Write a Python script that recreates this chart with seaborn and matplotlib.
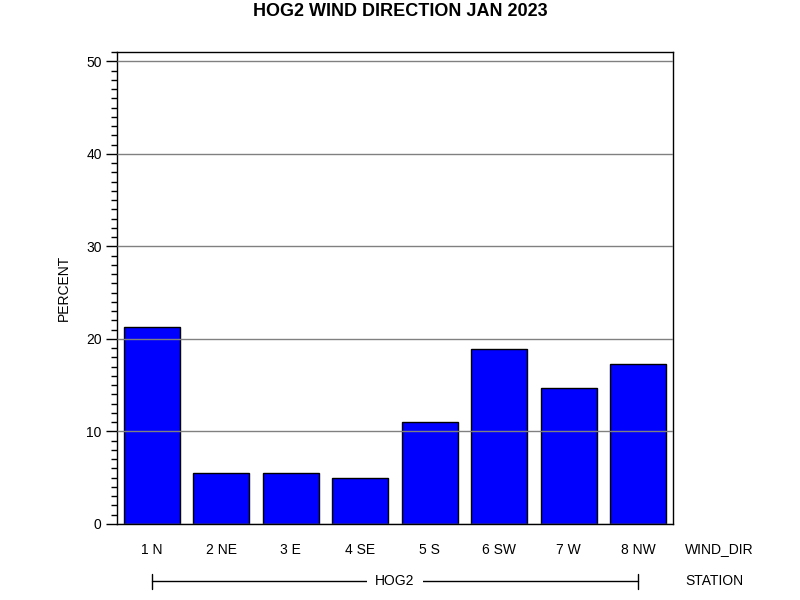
import numpy as np
import pandas as pd
import seaborn as sns
import matplotlib.pyplot as plt
import matplotlib.transforms as mtransforms
from matplotlib.ticker import MultipleLocator

# wind direction share for station HOG2, Jan 2023
wind_dir = ["1 N", "2 NE", "3 E", "4 SE", "5 S", "6 SW", "7 W", "8 NW"]
percent = [21.3, 5.5, 5.5, 5.0, 11.0, 18.9, 14.7, 17.3]
station = "HOG2"

df = pd.DataFrame({"WIND_DIR": wind_dir, "PERCENT": percent})

sns.set_theme(style="white")
plt.rcParams["font.family"] = ["Liberation Sans", "DejaVu Sans"]
plt.rcParams["text.color"] = "black"
plt.rcParams["axes.labelcolor"] = "black"
plt.rcParams["xtick.color"] = "black"
plt.rcParams["ytick.color"] = "black"

fig = plt.figure(figsize=(8, 6), dpi=100)
ax = fig.add_axes([0.14625, 0.12667, 0.695, 0.78667])

sns.barplot(data=df, x="WIND_DIR", y="PERCENT", color="#0000ff",
            saturation=1, width=0.8, edgecolor="black", linewidth=1, ax=ax, zorder=2)

ax.set_xlim(-0.5, len(wind_dir) - 0.5)
ax.set_ylim(0, 51)
ax.yaxis.set_major_locator(MultipleLocator(10))
ax.yaxis.set_minor_locator(MultipleLocator(1))
ax.grid(axis="y", which="major", color="#808080", linewidth=1)
ax.set_axisbelow(False)
for line in ax.get_ygridlines():
    line.set_zorder(3)

for s in ax.spines.values():
    s.set_color("black")
    s.set_linewidth(1)

ax.tick_params(axis="y", which="major", left=True, length=8, width=1,
               labelsize=10, pad=3)
ax.tick_params(axis="y", which="minor", left=True, length=4, width=1)
ax.tick_params(axis="x", bottom=False, labelsize=10, pad=8)

ax.set_xlabel("")
ax.set_ylabel("PERCENT", fontsize=10, labelpad=11)

fig.text(0.5, 1 - 12 / 600, "HOG2 WIND DIRECTION JAN 2023", ha="center", va="center",
         fontsize=13, fontweight="bold")

# x-axis label and station row on the right
fig.text(685 / 800, 1 - 549 / 600, "WIND_DIR", ha="left", va="center", fontsize=10)
fig.text(685 / 800, 1 - 581 / 600, "STATION", ha="left", va="center", fontsize=10)

# station bracket spanning all bars
trans = mtransforms.blended_transform_factory(ax.transData, fig.transFigure)
y_st = 1 - 581 / 600
tick_h = 7.5 / 600
x0, x1 = 0, len(wind_dir) - 1
ax.plot([x0, x1], [y_st, y_st], color="black", lw=1, transform=trans, clip_on=False)
ax.plot([x0, x0], [y_st - tick_h, y_st + tick_h], color="black", lw=1,
        transform=trans, clip_on=False)
ax.plot([x1, x1], [y_st - tick_h, y_st + tick_h], color="black", lw=1,
        transform=trans, clip_on=False)
ax.text((x0 + x1) / 2, y_st, station, transform=trans, ha="center", va="center",
        fontsize=10, bbox=dict(facecolor="white", edgecolor="none", pad=6))

fig.savefig("out.png", dpi=100)
